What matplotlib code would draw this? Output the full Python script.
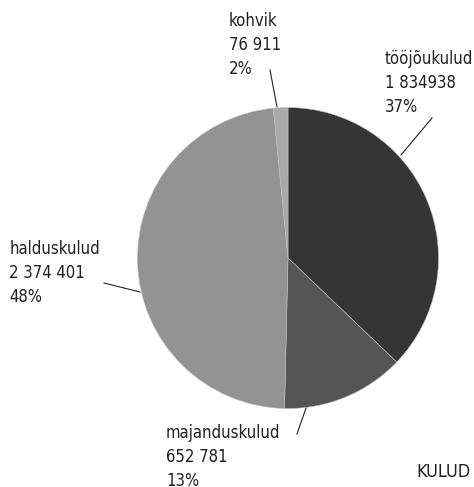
import matplotlib
matplotlib.use("Agg")
import matplotlib.pyplot as plt
from matplotlib import font_manager

# data
labels = ["tööjõukulud", "majanduskulud", "halduskulud", "kohvik"]
value_text = ["1 834938", "652 781", "2 374 401", "76 911"]
values = [1834938, 652781, 2374401, 76911]
colors = ["#353535", "#555555", "#939393", "#a9a9a9"]
title = "KULUD"

W, H = 474, 487

# pick a narrow font if one is installed
fonts = font_manager.fontManager.ttflist
names = {f.name for f in fonts}
condensed = [f for f in fonts if f.name == 'DejaVu Sans'
             and str(f.stretch) in ('condensed', 'semi-condensed', '600', '700')]
if 'Liberation Sans Narrow' in names:
    family, stretch, fs = 'Liberation Sans Narrow', 'normal', 13
elif condensed:
    family, stretch, fs = 'DejaVu Sans', 'condensed', 12
else:
    family, stretch, fs = 'DejaVu Sans', 'normal', 11
plt.rcParams['font.family'] = [family, 'DejaVu Sans']
plt.rcParams['font.stretch'] = stretch

fig = plt.figure(figsize=(W / 100, H / 100), dpi=100)
ax = fig.add_axes([0, 0, 1, 1])
ax.set_xlim(0, W)
ax.set_ylim(H, 0)
ax.axis('off')

# pie drawn in its own axes, placed in pixel layout
cx, cy, r = 288, 258, 150.5
pax = fig.add_axes([(cx - r) / W, 1 - (cy + r) / H, 2 * r / W, 2 * r / H])
pax.pie(values, colors=colors, startangle=90, counterclock=False,
        wedgeprops=dict(linewidth=0.4, edgecolor='#bdbdbd'))
pax.set_xlim(-1, 1)
pax.set_ylim(-1, 1)
pax.set_aspect('auto')
pax.axis('off')

total = sum(values)
# label anchor (left x, top y) and leader lines, in pixels
label_pos = [(385, 50), (166, 424), (9.5, 240), (229, 12)]
leaders = [((432, 118), (401, 155)), ((306, 408), (297, 434)),
           ((104, 283), (140, 292)), ((270, 70), (277, 107))]

for lab, vt, v, (lx, ly), (p1, p2) in zip(labels, value_text, values, label_pos, leaders):
    pct = round(100 * v / total)
    ax.text(lx, ly, f"{lab}\n{vt}\n{pct}%", ha='left', va='top',
            fontsize=fs, color='#231f20', linespacing=1.42)
    ax.plot([p1[0], p2[0]], [p1[1], p2[1]], color='#231f20', lw=0.8)

ax.text(471, 472, title, ha='right', va='center', fontsize=fs + 1,
        color='#231f20')

fig.savefig("out.png", dpi=100)
